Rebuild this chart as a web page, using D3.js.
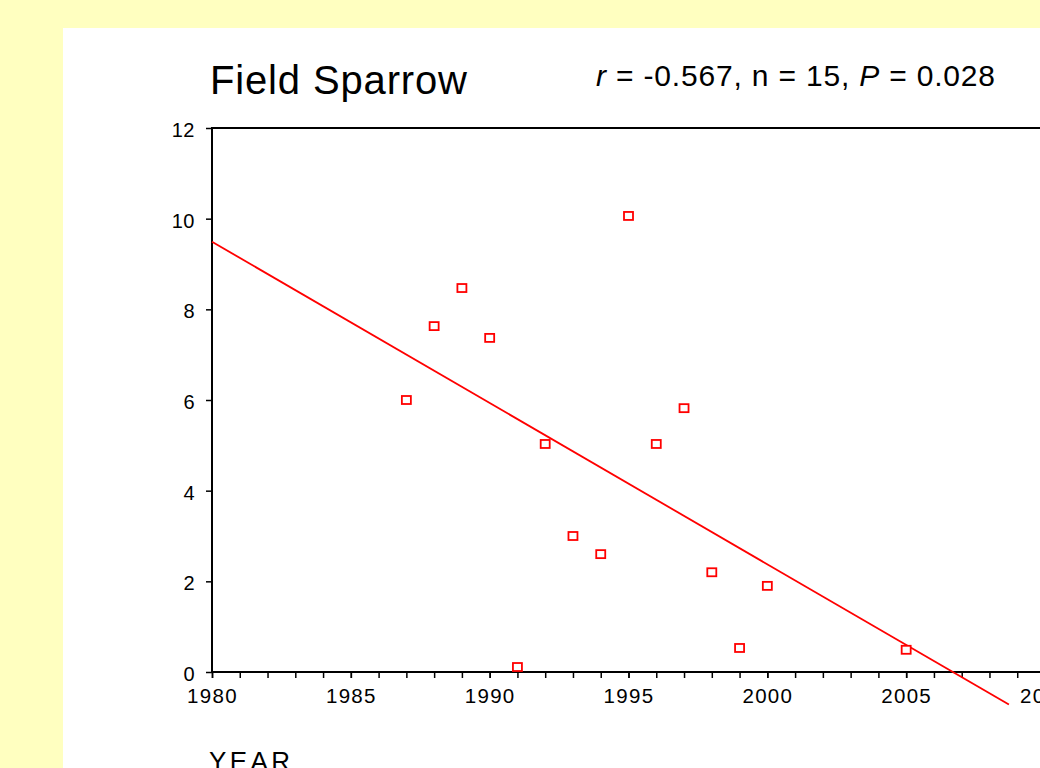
<!DOCTYPE html>
<html>
<head>
<meta charset="utf-8">
<script src="https://cdn.jsdelivr.net/npm/d3@7"></script>
<style>
    html, body { margin: 0; padding: 0; background: #ffffc0; overflow: hidden; }
    svg { display: block; font-family: "Liberation Sans", Arial, sans-serif; }
</style>
</head>
<body>
<svg id="chart" width="1040" height="768"></svg>
<script>

// survey years and counts
var years = [1987, 1988, 1989, 1990, 1991, 1992, 1993, 1994, 1995, 1996, 1997, 1998, 1999, 2000, 2005];
var counts = [6.0, 7.63, 8.47, 7.37, 0.11, 5.03, 3.0, 2.6, 10.06, 5.03, 5.82, 2.2, 0.53, 1.9, 0.49];

var yearTicks = [1980, 1985, 1990, 1995, 2000, 2005, 2010];
var yearMinorTicks = d3.range(1980, 2011);
var countTicks = [0, 2, 4, 6, 8, 10, 12];
var fitYears = [1980, 2008.7];

var titleText = 'Field Sparrow';
var statsParts = [
    {text: 'r', italic: true},
    {text: ' = -0.567, n = 15, ', italic: false},
    {text: 'P', italic: true},
    {text: ' = 0.028', italic: false}
];
var axisTitle = 'YEAR';

(function () {

    var config = {
        panelX: 63,
        panelY: 28,
        left: 212,
        right: 1045,
        top: 128,
        bottom: 672,
        red: '#ff0000'
    };

    var svg = d3.select('#chart');

    /**
     * Ordinary least squares fit of counts on years
     */
    function fitLine(xs, ys) {
        var mx = d3.mean(xs), my = d3.mean(ys);
        var sxy = d3.sum(xs, function (x, i) { return (x - mx) * (ys[i] - my); });
        var sxx = d3.sum(xs, function (x) { return (x - mx) * (x - mx); });
        var slope = sxy / sxx;
        return function (x) { return my + slope * (x - mx); };
    }

    // white sheet on the yellow page
    svg.append('rect')
        .attr('x', config.panelX).attr('y', config.panelY)
        .attr('width', 1040 - config.panelX).attr('height', 768 - config.panelY)
        .attr('fill', '#ffffff');

    var x = d3.scaleLinear().domain([1980, 2010]).range([config.left, config.right]);
    var y = d3.scaleLinear().domain([0, 12]).range([config.bottom, config.top]);

    // y axis
    var yAxis = svg.append('g')
        .attr('transform', 'translate(' + config.left + ',0)')
        .call(d3.axisLeft(y).tickValues(countTicks).tickSize(6).tickSizeOuter(0).tickPadding(11));
    yAxis.select('.domain').remove();
    yAxis.selectAll('line').attr('stroke', '#000').attr('stroke-width', 1.5);
    yAxis.selectAll('text')
        .attr('fill', '#000')
        .attr('dy', '0.42em')
        .style('font-size', '20px')
        .style('letter-spacing', '0.5px');

    // x axis, minor ticks every year
    var xMinor = svg.append('g')
        .attr('transform', 'translate(0,' + config.bottom + ')')
        .call(d3.axisBottom(x).tickValues(yearMinorTicks).tickSize(6).tickSizeOuter(0).tickFormat(''));
    xMinor.select('.domain').remove();
    xMinor.selectAll('line').attr('stroke', '#000').attr('stroke-width', 1.5);

    var xAxis = svg.append('g')
        .attr('transform', 'translate(0,' + config.bottom + ')')
        .call(d3.axisBottom(x).tickValues(yearTicks).tickSize(6).tickSizeOuter(0)
            .tickPadding(10).tickFormat(d3.format('d')));
    xAxis.select('.domain').remove();
    xAxis.selectAll('line').attr('stroke', '#000').attr('stroke-width', 1.5);
    xAxis.selectAll('text')
        .attr('fill', '#000')
        .style('font-size', '20.5px')
        .style('letter-spacing', '1.3px');

    // plot frame (right side falls outside the page)
    svg.append('rect')
        .attr('x', config.left).attr('y', config.top)
        .attr('width', config.right - config.left)
        .attr('height', config.bottom - config.top)
        .attr('fill', 'none')
        .attr('stroke', '#000')
        .attr('stroke-width', 2);

    // regression line
    var fit = fitLine(years, counts);
    svg.append('line')
        .attr('x1', x(fitYears[0])).attr('y1', y(fit(fitYears[0])))
        .attr('x2', x(fitYears[1])).attr('y2', y(fit(fitYears[1])))
        .attr('stroke', config.red)
        .attr('stroke-width', 1.8);

    // points
    svg.append('g').selectAll('rect')
        .data(years).enter()
        .append('rect')
        .attr('x', function (d) { return x(d) - 4.5; })
        .attr('y', function (d, i) { return y(counts[i]) - 4; })
        .attr('width', 9).attr('height', 8)
        .attr('fill', '#fff')
        .attr('stroke', config.red)
        .attr('stroke-width', 1.8);

    // titles
    svg.append('text')
        .attr('x', 210).attr('y', 94)
        .attr('textLength', 257).attr('lengthAdjust', 'spacing')
        .style('font-size', '40px')
        .text(titleText);

    var stats = svg.append('text')
        .attr('x', 596).attr('y', 86)
        .attr('textLength', 399).attr('lengthAdjust', 'spacing')
        .style('font-size', '30px');
    stats.selectAll('tspan')
        .data(statsParts).enter()
        .append('tspan')
        .style('font-style', function (d) { return d.italic ? 'italic' : 'normal'; })
        .text(function (d) { return d.text; });

    svg.append('text')
        .attr('x', 209).attr('y', 770)
        .attr('textLength', 81).attr('lengthAdjust', 'spacing')
        .style('font-size', '26px')
        .text(axisTitle);

})();
</script>
</body>
</html>
